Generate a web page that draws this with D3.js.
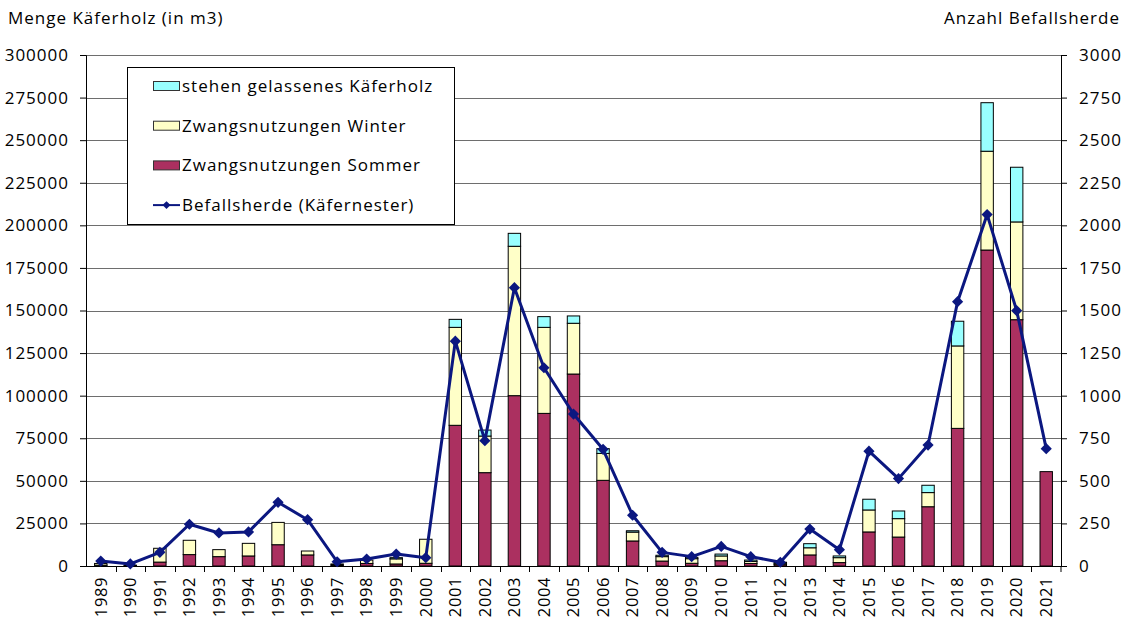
<!DOCTYPE html>
<html>
<head>
<meta charset="utf-8">
<title>Käferholz</title>
<style type="text/css">
    body { margin: 0; background: #fff; }
    svg text { font-family: "Open Sans", Lato, sans-serif; fill: #000; letter-spacing: 1px; }
    svg text.yr { letter-spacing: 0.6px; }
</style>
</head>
<body>
<script src="https://d3js.org/d3.v7.min.js"></script>
<script type="text/javascript">

var years = [1989,1990,1991,1992,1993,1994,1995,1996,1997,1998,1999,2000,2001,2002,2003,2004,2005,2006,2007,2008,2009,2010,2011,2012,2013,2014,2015,2016,2017,2018,2019,2020,2021];
var sommer = [500,200,2300,6700,5500,5900,12500,6500,600,1500,1200,1600,82600,54800,100000,89600,112700,50300,14700,2900,1600,3100,1500,800,6500,2000,20000,17000,34800,80800,185500,144600,55400];
var winter = [1000,300,8100,8400,4100,7400,13100,2300,600,2000,3000,14100,57500,21500,87700,50500,29800,15800,5200,2600,2700,2800,1200,800,4200,2900,12900,10800,8300,48400,58000,57400,0];
var stehen = [0,0,0,0,0,0,0,0,0,0,700,0,4700,3500,7600,6300,4300,2800,800,800,800,1100,800,600,2400,1000,6300,4500,4300,14500,28500,32100,0];
var herde = [29,12,80,245,194,200,374,272,25,41,70,49,1320,736,1634,1164,892,685,298,80,55,115,55,22,217,96,674,513,710,1552,2063,1499,689];
var leftTicks = [0,25000,50000,75000,100000,125000,150000,175000,200000,225000,250000,275000,300000];
var rightTicks = [0,250,500,750,1000,1250,1500,1750,2000,2250,2500,2750,3000];

var seriesNames = ['Zwangsnutzungen Sommer', 'Zwangsnutzungen Winter', 'stehen gelassenes Käferholz'];
var colors = ['#AB3060', '#FFFFC8', '#99FFFF'];
var lineColor = '#0B1780';

var W = 1136, H = 622;
var pLeft = 86, pRight = 1061, pTop = 55, pBottom = 566;

var svg = d3.select('body').append('svg')
    .attr('width', W).attr('height', H);

var x = d3.scaleBand().domain(years).range([pLeft, pRight]).padding(0);
var y = d3.scaleLinear().domain([0, 300000]).range([pBottom, pTop]);
var y2 = d3.scaleLinear().domain([0, 3000]).range([pBottom, pTop]);

// gridlines
svg.append('g').selectAll('line')
    .data(leftTicks.slice(1))
    .enter().append('line')
    .attr('x1', pLeft).attr('x2', pRight)
    .attr('y1', function (d) { return Math.round(y(d)) + 0.5; })
    .attr('y2', function (d) { return Math.round(y(d)) + 0.5; })
    .attr('stroke', '#6e6e6e').attr('stroke-width', 1);

// legend box (covers gridlines)
var lg = svg.append('g');
lg.append('rect')
    .attr('x', 127.5).attr('y', 67.5).attr('width', 327).attr('height', 157)
    .attr('fill', '#fff').attr('stroke', '#000').attr('stroke-width', 1);

// stacked bars
var table = years.map(function (yr, i) {
    return { year: yr, s: sommer[i], w: winter[i], c: stehen[i] };
});
var stack = d3.stack().keys(['s', 'w', 'c'])(table);
var bw = x.bandwidth() * 0.42;
var off = (x.bandwidth() - bw) / 2;

svg.append('g').selectAll('g')
    .data(stack)
    .enter().append('g')
    .attr('fill', function (d, i) { return colors[i]; })
    .selectAll('rect')
    .data(function (d) { return d.filter(function (p) { return p[1] - p[0] > 0; }); })
    .enter().append('rect')
    .attr('x', function (d) { return x(d.data.year) + off; })
    .attr('width', bw)
    .attr('y', function (d) { return y(d[1]); })
    .attr('height', function (d) { return y(d[0]) - y(d[1]); })
    .attr('stroke', '#000').attr('stroke-width', 1);

// axes
var axL = svg.append('g').attr('transform', 'translate(' + pLeft + ',0)')
    .call(d3.axisLeft(y).tickValues(leftTicks).tickSize(6).tickPadding(11).tickFormat(d3.format('d')));
var axR = svg.append('g').attr('transform', 'translate(' + pRight + ',0)')
    .call(d3.axisRight(y2).tickValues(rightTicks).tickSize(6).tickPadding(12).tickFormat(d3.format('d')));
[axL, axR].forEach(function (a) {
    a.select('.domain').attr('stroke', '#000');
    a.selectAll('.tick line').attr('stroke', '#000');
    a.selectAll('text').attr('font-size', 17).attr('font-family', '"Open Sans", sans-serif');
});

// x axis
svg.append('line')
    .attr('x1', pLeft).attr('x2', pRight).attr('y1', pBottom + 0.5).attr('y2', pBottom + 0.5)
    .attr('stroke', '#000');
svg.append('g').selectAll('line')
    .data(years.slice(1).concat(['end']))
    .enter().append('line')
    .attr('x1', function (d) { return d === 'end' ? pRight : Math.round(x(d)) + 0.5; })
    .attr('x2', function (d) { return d === 'end' ? pRight : Math.round(x(d)) + 0.5; })
    .attr('y1', pBottom).attr('y2', pBottom + 6)
    .attr('stroke', '#000');
svg.append('g').selectAll('text')
    .data(years)
    .enter().append('text')
    .attr('class', 'yr')
    .attr('transform', function (d) {
        return 'translate(' + (x(d) + x.bandwidth() / 2) + ',' + (pBottom + 11) + ') rotate(-90)';
    })
    .attr('text-anchor', 'end')
    .attr('dy', '0.35em')
    .attr('font-size', 16.5)
    .text(function (d) { return d; });

// line
var line = d3.line()
    .x(function (d, i) { return x(years[i]) + x.bandwidth() / 2; })
    .y(function (d) { return y2(d); });
svg.append('path')
    .datum(herde)
    .attr('d', line)
    .attr('fill', 'none').attr('stroke', lineColor).attr('stroke-width', 3)
    .attr('stroke-linejoin', 'round');
svg.append('g').selectAll('path')
    .data(herde)
    .enter().append('path')
    .attr('d', d3.symbol().type(d3.symbolDiamond2).size(80))
    .attr('transform', function (d, i) {
        return 'translate(' + (x(years[i]) + x.bandwidth() / 2) + ',' + y2(d) + ')';
    })
    .attr('fill', lineColor);

// axis titles
svg.append('text').attr('x', 8).attr('y', 24).attr('font-size', 17).text('Menge Käferholz (in m3)');
svg.append('text').attr('x', 1120).attr('y', 24).attr('font-size', 17)
    .attr('text-anchor', 'end').text('Anzahl Befallsherde');

// legend entries
var items = [
    { name: seriesNames[2], type: 'bar', color: colors[2] },
    { name: seriesNames[1], type: 'bar', color: colors[1] },
    { name: seriesNames[0], type: 'bar', color: colors[0] },
    { name: 'Befallsherde (Käfernester)', type: 'line', color: lineColor }
];
var rows = lg.selectAll('g.item').data(items).enter().append('g')
    .attr('transform', function (d, i) { return 'translate(153,' + (86 + i * 39.7) + ')'; });
rows.filter(function (d) { return d.type === 'bar'; }).append('rect')
    .attr('x', 0.5).attr('y', -4.5).attr('width', 26).attr('height', 9)
    .attr('fill', function (d) { return d.color; }).attr('stroke', '#333');
rows.filter(function (d) { return d.type === 'line'; }).append('line')
    .attr('x1', 0).attr('x2', 27).attr('y1', 0).attr('y2', 0)
    .attr('stroke', lineColor).attr('stroke-width', 2);
rows.filter(function (d) { return d.type === 'line'; }).append('path')
    .attr('d', d3.symbol().type(d3.symbolDiamond2).size(40))
    .attr('transform', 'translate(13.5,0)').attr('fill', lineColor);
rows.append('text')
    .attr('x', 29).attr('dy', '0.35em').attr('font-size', 17)
    .text(function (d) { return d.name; });

</script>
</body>
</html>
